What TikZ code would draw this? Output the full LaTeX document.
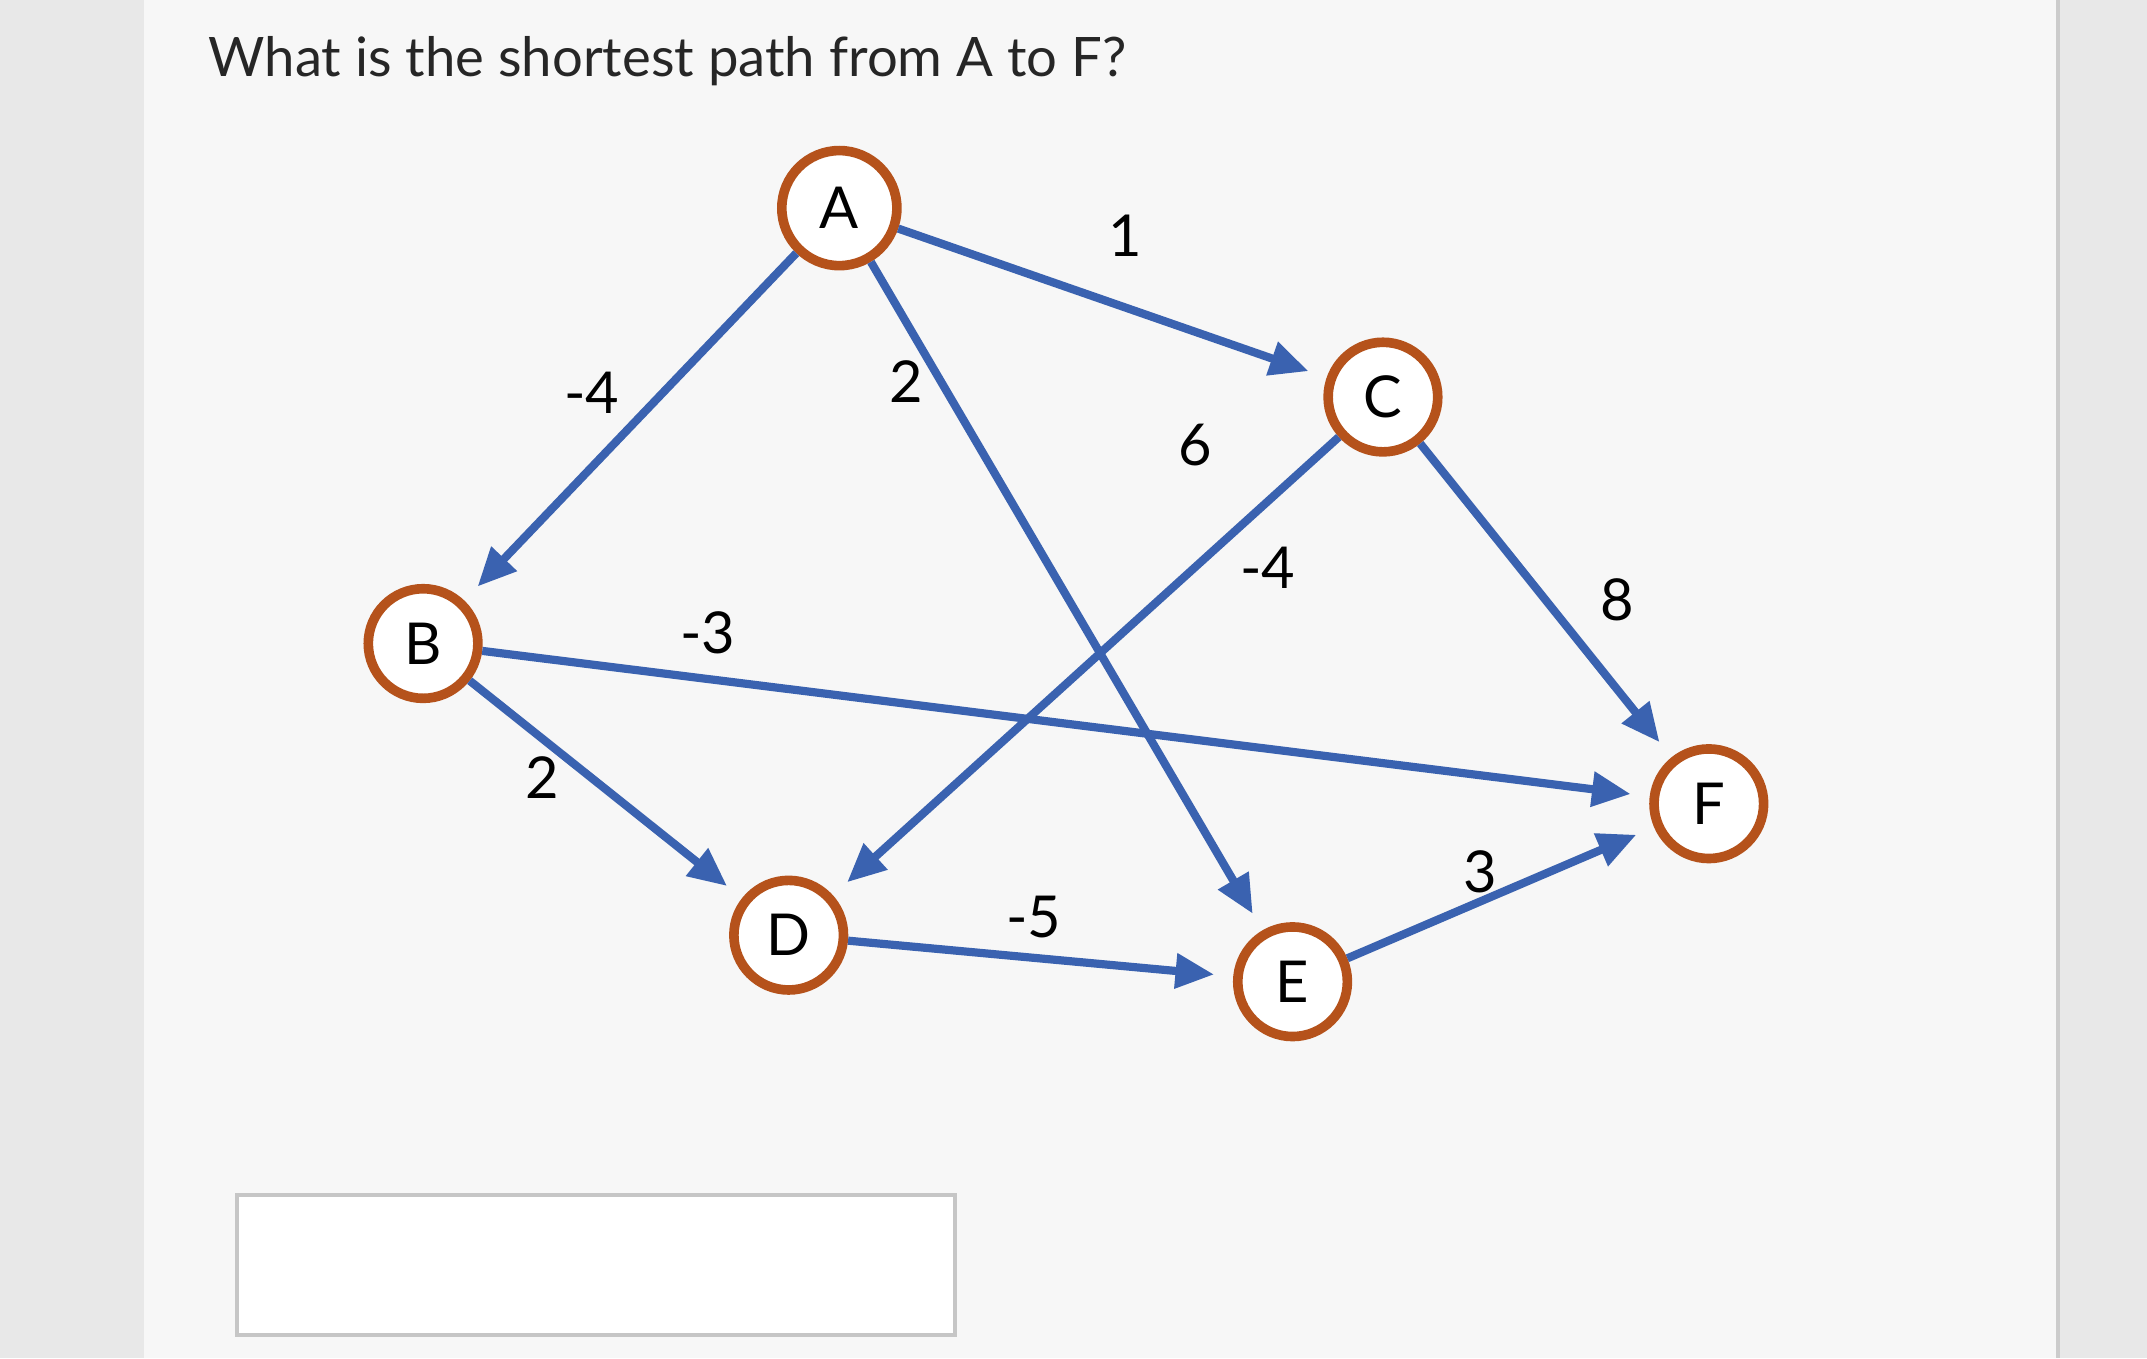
\documentclass[tikz,border=0pt]{standalone}
\usepackage{fontspec}
\setmainfont{Lato}
\usetikzlibrary{arrows.meta}
\definecolor{edgeblue}{HTML}{3A62B0}
\definecolor{nodeorange}{HTML}{B5521B}
\tikzset{
 vtx/.style={circle,draw=nodeorange,line width=2pt,fill=white,minimum size=0.8cm,inner sep=0pt,font=\fontsize{12}{12}\selectfont},
 edge/.style={draw=edgeblue,line width=1.7pt,-{Triangle[length=8pt,width=7pt]},shorten >=4pt},
 wt/.style={font=\fontsize{12}{12}\selectfont}
}
\begin{document}
\begin{tikzpicture}[x=0.01cm,y=-0.01cm]
\useasboundingbox (0,0) rectangle (1568,992);
\fill[gray!18] (0,0) rectangle (1568,992);
\fill[gray!6] (105,0) rectangle (1503,992);
\draw[gray!40,line width=1pt] (1503,0) -- (1503,992);
\node[anchor=west,font=\fontsize{11.3}{11.3}\selectfont,text=black!85] (title) at (140,45) {What is the shortest path from A to F?};
\node[draw=gray!45,fill=white,line width=0.8pt,minimum width=5.24cm,minimum height=1.02cm] (box) at (435,924) {};
\node[vtx,minimum size=0.84cm] (A) at (613,152) {A};
\node[vtx] (B) at (309,470) {B};
\node[vtx] (C) at (1010,290) {C};
\node[vtx] (D) at (576,683) {D};
\node[vtx] (E) at (944,717) {E};
\node[vtx] (F) at (1248,587) {F};
\draw[edge] (A) -- (B);
\draw[edge] (A) -- (C);
\draw[edge] (A) -- (E);
\draw[edge] (C) -- (D);
\draw[edge] (C) -- (F);
\draw[edge] (B) -- (F);
\draw[edge] (B) -- (D);
\draw[edge] (D) -- (E);
\draw[edge] (E) -- (F);
\node[wt] (l1) at (822,172) {1};
\node[wt] (l2) at (432,287) {-4};
\node[wt] (l3) at (662,279) {2};
\node[wt] (l4) at (873,325) {6};
\node[wt] (l5) at (926,415) {-4};
\node[wt] (l6) at (1181,438) {8};
\node[wt] (l7) at (517,462) {-3};
\node[wt] (l8) at (396,568) {2};
\node[wt] (l9) at (1081,637) {3};
\node[wt] (l10) at (755,670) {-5};
\end{tikzpicture}
\end{document}
